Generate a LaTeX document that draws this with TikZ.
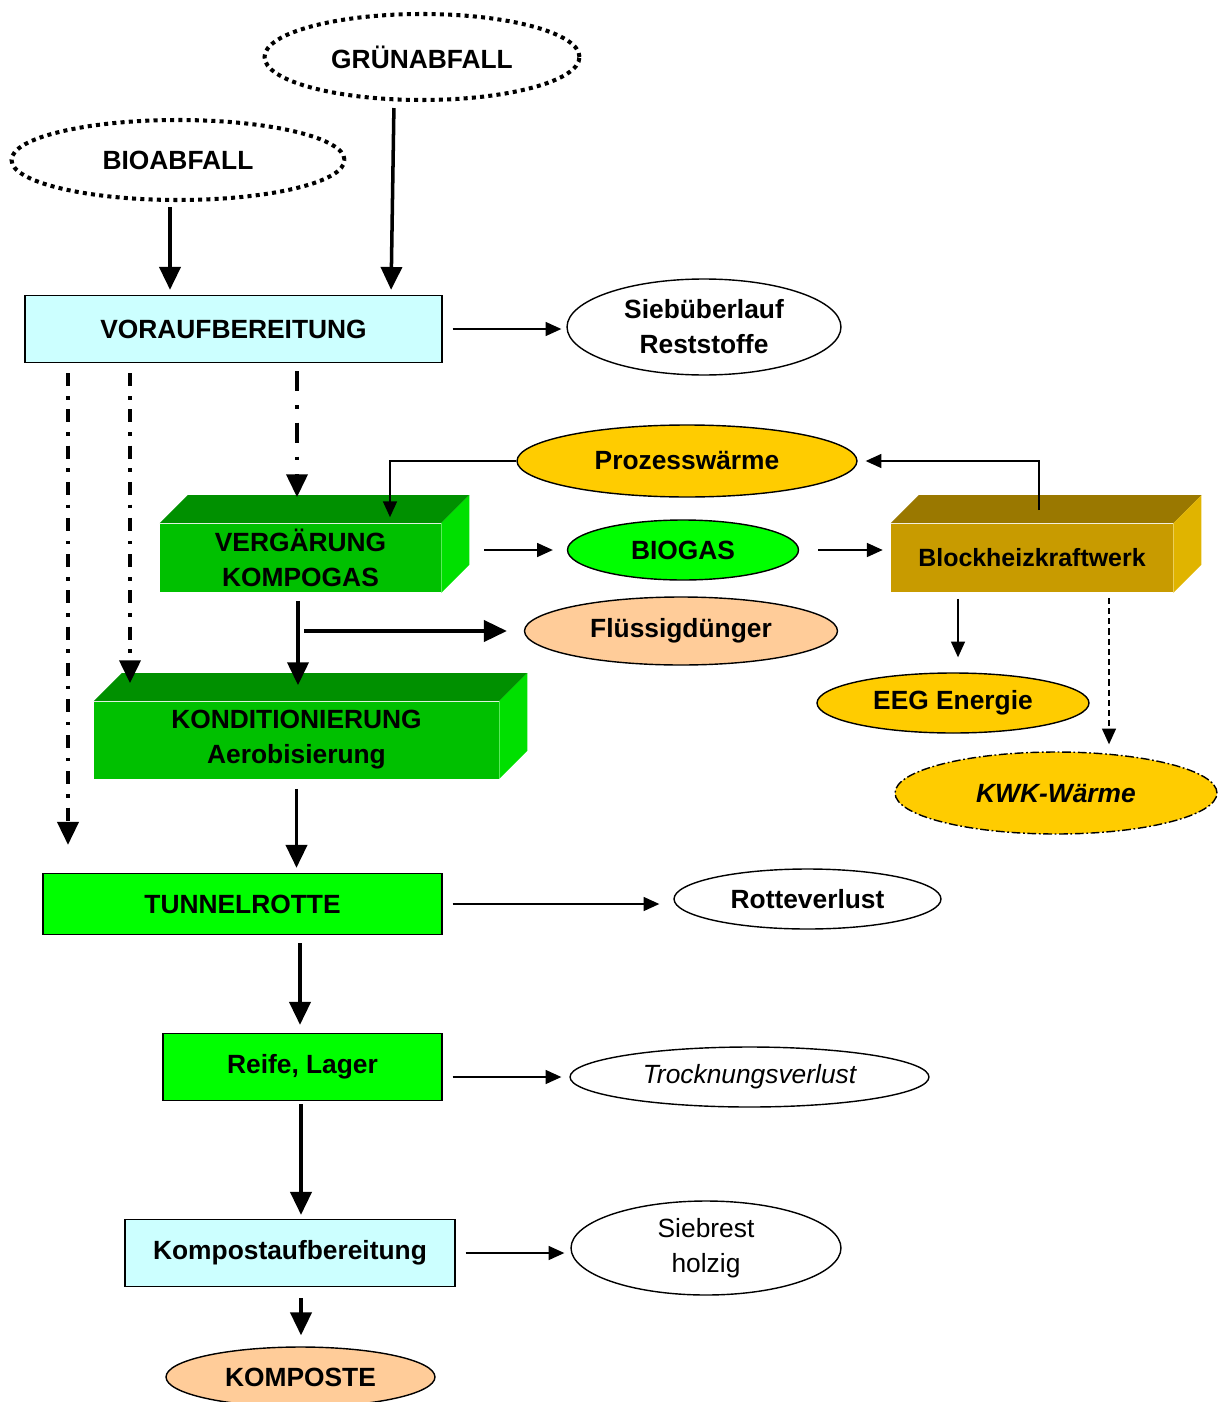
\documentclass[tikz,border=0pt]{standalone}
\usepackage{fontspec}
\setmainfont{Liberation Sans}
\usetikzlibrary{positioning,shapes.geometric,arrows.meta}
\usepackage{xcolor}
\definecolor{kaHellblau}{HTML}{CCFFFF}
\definecolor{kaGruen}{HTML}{00FF00}
\definecolor{kaGruenVorn}{HTML}{00C000}
\definecolor{kaGruenOben}{HTML}{009000}
\definecolor{kaGruenSeite}{HTML}{00E000}
\definecolor{kaOcker}{HTML}{C89B00}
\definecolor{kaOckerOben}{HTML}{9A7800}
\definecolor{kaOckerSeite}{HTML}{E0B400}
\definecolor{kaGold}{HTML}{FFCC00}
\definecolor{kaPfirsich}{HTML}{FFCC99}

% top and right face of a block node
\newcommand{\blockseiten}[3]{%
  \fill[#2] (#1.north west) -- ++(28,-28) -- ([shift={(28,-28)}]#1.north east) -- (#1.north east) -- cycle;
  \fill[#3] (#1.north east) -- ++(28,-28) -- ([shift={(28,-28)}]#1.south east) -- (#1.south east) -- cycle;
}

\begin{document}
\begin{tikzpicture}[x=0.02cm,y=-0.02cm,>={Triangle[length=9pt,width=8pt]}]
  \tikzstyle{schrift}=[font=\bfseries\fontsize{15}{20}\selectfont]
  \tikzstyle{blase}=[ellipse,draw,line width=0.8pt,inner sep=0pt,align=center,schrift]
  \tikzstyle{quelle}=[ellipse,draw,line width=2.3pt,dash pattern=on 2.3pt off 2.4pt,inner sep=0pt,schrift]
  \tikzstyle{kasten}=[rectangle,draw,line width=0.8pt,inner sep=0pt,align=center,schrift]
  \tikzstyle{block}=[rectangle,inner sep=0pt,align=center,schrift]
  \tikzstyle{fluss}=[->,line width=2pt,>={Triangle[length=13pt,width=12pt]}]
  \tikzstyle{pfeil}=[->,line width=0.8pt]
  \tikzstyle{umweg}=[->,>={Triangle[length=13pt,width=12pt]},line width=2pt,dash pattern=on 7.4pt off 5.6pt on 2pt off 5.6pt]
  \useasboundingbox (0,0) rectangle (1219,1402);

  % inputs
  \node[quelle,minimum width=6.3cm,minimum height=1.72cm] (gruen) at (422,57) {GRÜNABFALL};
  \node[quelle,minimum width=6.66cm,minimum height=1.6cm] (bio) at (178,160) {BIOABFALL};

  % main line
  \node[kasten,fill=kaHellblau,minimum width=8.34cm,minimum height=1.34cm] (vorauf) at (233.5,329) {VORAUFBEREITUNG};
  \node[block,fill=kaGruenVorn,minimum width=5.62cm,minimum height=1.38cm] (verg) at (300.5,558) {VERGÄRUNG\\KOMPOGAS};
  \blockseiten{verg}{kaGruenOben}{kaGruenSeite}
  \node[block,fill=kaGruenVorn,minimum width=8.1cm,minimum height=1.54cm] (kond) at (296.5,740) {KONDITIONIERUNG\\Aerobisierung};
  \blockseiten{kond}{kaGruenOben}{kaGruenSeite}
  \node[kasten,fill=kaGruen,minimum width=7.98cm,minimum height=1.22cm] (tunnel) at (242.5,904) {TUNNELROTTE};
  \node[kasten,fill=kaGruen,minimum width=5.58cm,minimum height=1.34cm] (reife) at (302.5,1067) {Reife, Lager};
  \node[kasten,fill=kaHellblau,minimum width=6.6cm,minimum height=1.34cm] (kompost) at (290,1253) {Kompostaufbereitung};
  \node[blase,fill=kaPfirsich,minimum width=5.38cm,minimum height=1.2cm] (komposte) at (300.5,1377) {KOMPOSTE};

  % energy side
  \node[blase,fill=kaGold,minimum width=6.8cm,minimum height=1.44cm] (prozess) at (687,461) {Prozesswärme};
  \node[blase,fill=kaGruen,minimum width=4.62cm,minimum height=1.2cm] (biogas) at (683,550) {BIOGAS};
  \node[block,fill=kaOcker,minimum width=5.64cm,minimum height=1.38cm,font=\bfseries\fontsize{14.2}{20}\selectfont] (bhkw) at (1032,558) {Blockheizkraftwerk};
  \blockseiten{bhkw}{kaOckerOben}{kaOckerSeite}
  \node[blase,fill=kaPfirsich,minimum width=6.26cm,minimum height=1.36cm] (duenger) at (681,631) {Flüssigdünger};
  \node[blase,fill=kaGold,minimum width=5.44cm,minimum height=1.2cm] (eeg) at (953,703) {EEG Energie};
  \node[blase,fill=kaGold,dash pattern=on 5pt off 1.5pt on 1pt off 1.5pt,minimum width=6.44cm,minimum height=1.64cm,font=\bfseries\itshape\fontsize{15}{20}\selectfont] (kwk) at (1056,793) {KWK-Wärme};

  % losses
  \node[blase,minimum width=5.48cm,minimum height=1.92cm] (sieb) at (704,327) {Siebüberlauf\\Reststoffe};
  \node[blase,minimum width=5.34cm,minimum height=1.2cm] (rotte) at (807.5,899) {Rotteverlust};
  \node[blase,minimum width=7.18cm,minimum height=1.2cm,font=\itshape\fontsize{15}{20}\selectfont] (trock) at (749.5,1077) {Trocknungsverlust};
  \node[blase,minimum width=5.4cm,minimum height=1.88cm,font=\fontsize{15}{20}\selectfont] (siebrest) at (706,1248) {Siebrest\\holzig};

  % connectors
  \draw[fluss,shorten <=0.1cm,shorten >=0.1cm] (170,0 |- bio.south) -- (170,0 |- vorauf.north);
  \draw[fluss,shorten <=0.12cm,shorten >=0.1cm] (394,0 |- gruen.south) -- (391,0 |- vorauf.north);
  \draw[pfeil,shorten <=0.2cm,shorten >=0.1cm] (vorauf.east) -- (vorauf.east -| sieb.west);
  \draw[umweg,shorten <=0.2cm,shorten >=0.56cm] (68,0 |- vorauf.south) -- (68,0 |- tunnel.north);
  \draw[umweg,shorten <=0.2cm,shorten >=0.36cm] (130,0 |- vorauf.south) -- (130,0 |- kond.north);
  \draw[umweg,dash pattern=on 11.3pt off 8pt on 2pt off 8pt,shorten <=0.16cm,shorten >=0.52cm] (297,0 |- vorauf.south) -- (297,0 |- verg.north);
  \draw[pfeil,shorten >=0.12cm] (prozess.west) -| (390,0 |- verg.north);
  \draw[pfeil,shorten >=0.16cm] ([xshift=0.14cm,yshift=0.26cm]bhkw.north) |- (prozess.east);
  \draw[pfeil,shorten <=0.86cm,shorten >=0.28cm] (verg.east |- biogas.west) -- (biogas.west);
  \draw[pfeil,shorten <=0.38cm,shorten >=0.16cm] (biogas.east) -- (biogas.east -| bhkw.west);
  \draw[fluss,shorten <=0.16cm,shorten >=0.32cm] (298,0 |- verg.south) -- (298,0 |- kond.north);
  \draw[fluss,shorten <=0.12cm,shorten >=0.34cm] (298,0 |- duenger.west) -- (duenger.west);
  \draw[pfeil,shorten <=0.12cm,shorten >=0.3cm] (958,0 |- bhkw.south) -- (958,0 |- eeg.north);
  \draw[pfeil,dash pattern=on 3.5pt off 2.3pt,shorten <=0.1cm,shorten >=0.14cm] (1109,0 |- bhkw.south) -- (1109,0 |- kwk.north);
  \draw[fluss,shorten <=0.2cm,shorten >=0.1cm] (kond.south) -- (kond.south |- tunnel.north);
  \draw[pfeil,shorten <=0.2cm,shorten >=0.28cm] (tunnel.east) -- (tunnel.east -| rotte.west);
  \draw[fluss,shorten <=0.16cm,shorten >=0.16cm] (300,0 |- tunnel.south) -- (300,0 |- reife.north);
  \draw[pfeil,shorten <=0.2cm,shorten >=0.16cm] (reife.east |- trock.west) -- (trock.west);
  \draw[fluss,shorten <=0.06cm,shorten >=0.08cm] (301,0 |- reife.south) -- (301,0 |- kompost.north);
  \draw[pfeil,shorten <=0.2cm,shorten >=0.12cm] (kompost.east) -- (kompost.east -| siebrest.west);
  \draw[fluss,shorten <=0.22cm,shorten >=0.22cm] (301,0 |- kompost.south) -- (301,0 |- komposte.north);
\end{tikzpicture}
\end{document}
